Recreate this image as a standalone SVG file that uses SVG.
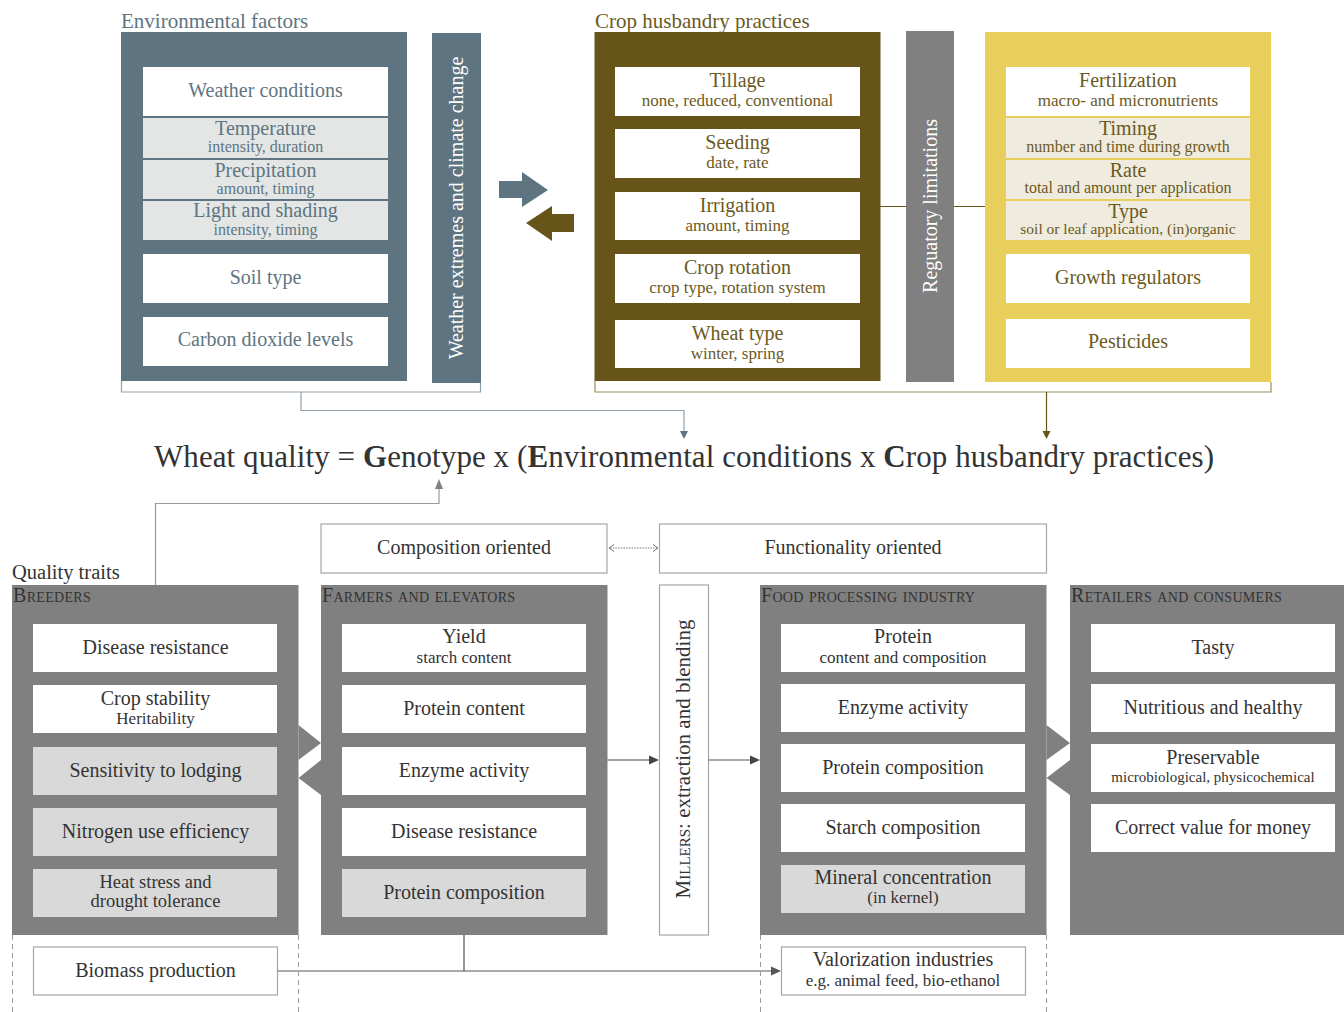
<svg xmlns="http://www.w3.org/2000/svg" width="1344" height="1012" viewBox="0 0 1344 1012">
<style>
text { font-family: "Liberation Serif", "DejaVu Serif", serif; text-anchor: middle; }
.m { font-size: 20px; }
.s { font-size: 17px; }
.s2 { font-size: 16px; }
.env text { fill: #5e7581; }
.crop text, .fert text { fill: #6b5a1e; }
.bot text { fill: #333333; }
.lbl { text-anchor: start; font-size: 21px; }
.hdr { text-anchor: start; font-size: 20px; font-variant: small-caps; letter-spacing: 0.3px; fill: #ffffff; }
.wb { fill: #ffffff; }
.gEnv { fill: #e3e6e5; }
.gFert { fill: #f0ebdf; }
.gBot { fill: #d9d9d9; }
.ob { fill: #ffffff; stroke: #a6a6a6; stroke-width: 1.2; }
.ln { fill: none; stroke-width: 1.2; }
.dash { fill: none; stroke: #9a9a9a; stroke-width: 1; stroke-dasharray: 5 4; }
</style>
<rect x="0" y="0" width="1344" height="1012" fill="#ffffff"/>

<g id="environmental-factors" class="env">
  <text class="lbl" x="121" y="28">Environmental factors</text>
  <rect x="121" y="32" width="286" height="349" fill="#5e7581"/>
  <rect class="wb" x="143" y="67" width="245" height="49"/>
  <text class="m" x="265.5" y="97">Weather conditions</text>
  <rect class="gEnv" x="143" y="118" width="245" height="40"/>
  <text class="m" x="265.5" y="135">Temperature</text>
  <text class="s2" x="265.5" y="152">intensity, duration</text>
  <rect class="gEnv" x="143" y="160" width="245" height="39"/>
  <text class="m" x="265.5" y="176.5">Precipitation</text>
  <text class="s2" x="265.5" y="193.5">amount, timing</text>
  <rect class="gEnv" x="143" y="201" width="245" height="39"/>
  <text class="m" x="265.5" y="216.5">Light and shading</text>
  <text class="s2" x="265.5" y="234.5">intensity, timing</text>
  <rect class="wb" x="143" y="254" width="245" height="49"/>
  <text class="m" x="265.5" y="284">Soil type</text>
  <rect class="wb" x="143" y="317" width="245" height="49"/>
  <text class="m" x="265.5" y="346">Carbon dioxide levels</text>
</g>

<g id="weather-extremes">
  <rect x="432" y="33" width="49" height="350" fill="#5e7581"/>
  <text class="m" transform="translate(463,208) rotate(-90)" fill="#ffffff">Weather extremes and climate change</text>
</g>

<g id="crop-husbandry" class="crop">
  <text class="lbl" x="595" y="28">Crop husbandry practices</text>
  <rect x="594.5" y="32" width="286" height="349" fill="#675419"/>
  <rect class="wb" x="615" y="67" width="245" height="49"/>
  <text class="m" x="737.5" y="86.5">Tillage</text>
  <text class="s" x="737.5" y="105.5">none, reduced, conventional</text>
  <rect class="wb" x="615" y="129" width="245" height="49"/>
  <text class="m" x="737.5" y="148.5">Seeding</text>
  <text class="s" x="737.5" y="167.5">date, rate</text>
  <rect class="wb" x="615" y="192" width="245" height="48"/>
  <text class="m" x="737.5" y="211.5">Irrigation</text>
  <text class="s" x="737.5" y="230.5">amount, timing</text>
  <rect class="wb" x="615" y="254" width="245" height="49"/>
  <text class="m" x="737.5" y="273.5">Crop rotation</text>
  <text class="s" x="737.5" y="292.5">crop type, rotation system</text>
  <rect class="wb" x="615" y="320" width="245" height="48"/>
  <text class="m" x="737.5" y="339.5">Wheat type</text>
  <text class="s" x="737.5" y="358.5">winter, spring</text>
</g>

<g id="regulatory-limitations">
  <rect x="906" y="31" width="48" height="351" fill="#808080"/>
  <text class="m" transform="translate(937,206) rotate(-90)" fill="#ffffff">Reguatory limitations</text>
</g>

<g id="fertilization" class="fert">
  <rect x="985" y="32" width="286" height="350" fill="#e8cf5c"/>
  <rect class="wb" x="1006" y="67" width="244" height="49"/>
  <text class="m" x="1128" y="86.5">Fertilization</text>
  <text class="s" x="1128" y="105.5">macro- and micronutrients</text>
  <rect class="gFert" x="1006" y="118" width="244" height="40"/>
  <text class="m" x="1128" y="135">Timing</text>
  <text class="s2" x="1128" y="152">number and time during growth</text>
  <rect class="gFert" x="1006" y="160" width="244" height="39"/>
  <text class="m" x="1128" y="176.5">Rate</text>
  <text class="s2" x="1128" y="193">total and amount per application</text>
  <rect class="gFert" x="1006" y="201" width="244" height="39"/>
  <text class="m" x="1128" y="217.5">Type</text>
  <text x="1128" y="234" font-size="15.5">soil or leaf application, (in)organic</text>
  <rect class="wb" x="1006" y="254" width="244" height="49"/>
  <text class="m" x="1128" y="284">Growth regulators</text>
  <rect class="wb" x="1006" y="319" width="244" height="49"/>
  <text class="m" x="1128" y="348">Pesticides</text>
</g>

<g id="equation">
  <text x="684" y="467" font-size="31" fill="#333333" textLength="1060" lengthAdjust="spacing">Wheat quality = <tspan font-weight="bold">G</tspan>enotype x (<tspan font-weight="bold">E</tspan>nvironmental conditions x <tspan font-weight="bold">C</tspan>rop husbandry practices)</text>
</g>

<g id="composition-oriented" class="bot">
  <rect class="ob" x="321" y="524" width="286" height="49"/>
  <text class="m" x="464" y="554">Composition oriented</text>
</g>
<g id="functionality-oriented" class="bot">
  <rect class="ob" x="659.5" y="524" width="387" height="49"/>
  <text class="m" x="853" y="554">Functionality oriented</text>
</g>

<g id="breeders" class="bot">
  <text x="12" y="579" font-size="20.5" style="text-anchor: start;" fill="#444444">Quality traits</text>
  <rect x="12" y="585" width="286.5" height="350" fill="#808080"/>
  <text class="hdr" x="13" y="602">Breeders</text>
  <rect class="wb" x="33" y="624" width="244" height="48"/>
  <text class="m" x="155.5" y="654">Disease resistance</text>
  <rect class="wb" x="33" y="685" width="244" height="48"/>
  <text class="m" x="155.5" y="704.5">Crop stability</text>
  <text class="s" x="155.5" y="723.5">Heritability</text>
  <rect class="gBot" x="33" y="747" width="244" height="48"/>
  <text class="m" x="155.5" y="777">Sensitivity to lodging</text>
  <rect class="gBot" x="33" y="808" width="244" height="48"/>
  <text class="m" x="155.5" y="838">Nitrogen use efficiency</text>
  <rect class="gBot" x="33" y="869" width="244" height="48"/>
  <text x="155.5" y="888" font-size="18.5">Heat stress and</text>
  <text x="155.5" y="907" font-size="18.5">drought tolerance</text>
</g>

<g id="farmers" class="bot">
  <rect x="321" y="585" width="286.5" height="350" fill="#808080"/>
  <text class="hdr" x="322" y="602">Farmers and elevators</text>
  <rect class="wb" x="342" y="624" width="244" height="48"/>
  <text class="m" x="464" y="643">Yield</text>
  <text class="s" x="464" y="662.5">starch content</text>
  <rect class="wb" x="342" y="685" width="244" height="48"/>
  <text class="m" x="464" y="715">Protein content</text>
  <rect class="wb" x="342" y="747" width="244" height="48"/>
  <text class="m" x="464" y="777">Enzyme activity</text>
  <rect class="wb" x="342" y="808" width="244" height="48"/>
  <text class="m" x="464" y="838">Disease resistance</text>
  <rect class="gBot" x="342" y="869" width="244" height="48"/>
  <text class="m" x="464" y="899">Protein composition</text>
</g>

<g id="millers" class="bot">
  <rect class="ob" x="659.5" y="585" width="49" height="350"/>
  <text transform="translate(690,759) rotate(-90)" font-size="21"><tspan style="font-variant: small-caps;">Millers</tspan>: extraction and blending</text>
</g>

<g id="food-processing" class="bot">
  <rect x="760" y="585" width="286.5" height="350" fill="#808080"/>
  <text class="hdr" x="761" y="602">Food processing industry</text>
  <rect class="wb" x="781" y="624" width="244" height="48"/>
  <text class="m" x="903" y="643">Protein</text>
  <text class="s" x="903" y="662.5">content and composition</text>
  <rect class="wb" x="781" y="684" width="244" height="48"/>
  <text class="m" x="903" y="714">Enzyme activity</text>
  <rect class="wb" x="781" y="744" width="244" height="48"/>
  <text class="m" x="903" y="774">Protein composition</text>
  <rect class="wb" x="781" y="804" width="244" height="48"/>
  <text class="m" x="903" y="834">Starch composition</text>
  <rect class="gBot" x="781" y="865" width="244" height="48"/>
  <text class="m" x="903" y="884">Mineral concentration</text>
  <text class="s" x="903" y="903">(in kernel)</text>
</g>

<g id="retailers" class="bot">
  <rect x="1070" y="585" width="274" height="350" fill="#808080"/>
  <text class="hdr" x="1071" y="602">Retailers and consumers</text>
  <rect class="wb" x="1091" y="624" width="244" height="48"/>
  <text class="m" x="1213" y="654">Tasty</text>
  <rect class="wb" x="1091" y="684" width="244" height="48"/>
  <text class="m" x="1213" y="714">Nutritious and healthy</text>
  <rect class="wb" x="1091" y="744" width="244" height="48"/>
  <text class="m" x="1213" y="764">Preservable</text>
  <text x="1213" y="782" font-size="15">microbiological, physicochemical</text>
  <rect class="wb" x="1091" y="804" width="244" height="48"/>
  <text class="m" x="1213" y="834">Correct value for money</text>
</g>

<g id="biomass-production" class="bot">
  <rect class="ob" x="33.5" y="947" width="244" height="48"/>
  <text class="m" x="155.5" y="977">Biomass production</text>
</g>
<g id="valorization-industries" class="bot">
  <rect class="ob" x="781.5" y="947" width="244" height="48"/>
  <text class="m" x="903" y="966">Valorization industries</text>
  <text class="s" x="903" y="986">e.g. animal feed, bio-ethanol</text>
</g>

<g id="connectors">
  <path class="ln" stroke="#8fa1ab" d="M121.5,381 V392 H480.5 V383"/>
  <path class="ln" stroke="#8fa1ab" d="M301,392 V410.5 H684 V431"/>
  <polygon points="684,439 680,431 688,431" fill="#5e7581"/>
  <path class="ln" stroke="#9a8d5a" d="M595,381 V392 H1271 V382"/>
  <path class="ln" stroke="#675419" d="M1046.5,392 V431"/>
  <polygon points="1046.5,439 1042.5,431 1050.5,431" fill="#675419"/>
  <path class="ln" stroke="#675419" d="M880,206.5 H906 M954,206.5 H985"/>
  <polygon points="499,181 522,181 522,172 548,190 522,207 522,198 499,198" fill="#5e7581"/>
  <polygon points="574,214 552,214 552,206 526,223 552,241 552,232 574,232" fill="#675419"/>
  <path class="ln" stroke="#9a9a9a" d="M155.5,585 V503.5 H439 V488"/>
  <polygon points="439,479 435,489 443,489" fill="#808080"/>
  <path fill="none" stroke="#555555" stroke-width="0.8" stroke-dasharray="1.5 1.2" d="M610,548 H657"/>
  <path fill="none" stroke="#555555" stroke-width="0.8" d="M614,544.5 L609,548 L614,551.5 M653,544.5 L658,548 L653,551.5"/>
  <polygon points="298.5,725 321,743 298.5,760" fill="#808080"/>
  <polygon points="321,760 298.5,778 321,795" fill="#808080"/>
  <polygon points="1046.5,725 1070,743 1046.5,760" fill="#808080"/>
  <polygon points="1070,760 1046.5,778 1070,795" fill="#808080"/>
  <path class="ln" stroke="#444444" stroke-width="1.5" d="M607.5,760 H650"/>
  <polygon points="659,760 649,755.5 649,764.5" fill="#444444"/>
  <path class="ln" stroke="#555555" d="M708.5,760 H751"/>
  <polygon points="760,760 750,755.5 750,764.5" fill="#444444"/>
  <path class="ln" stroke="#555555" stroke-width="1.5" d="M277.5,971 H772 M464,935 V971"/>
  <polygon points="781,971 771,966.5 771,975.5" fill="#555555"/>
  <path class="dash" d="M12.5,935 V1012 M298.5,935 V1012 M760.5,935 V1012 M1046.5,935 V1012"/>
</g>
</svg>
